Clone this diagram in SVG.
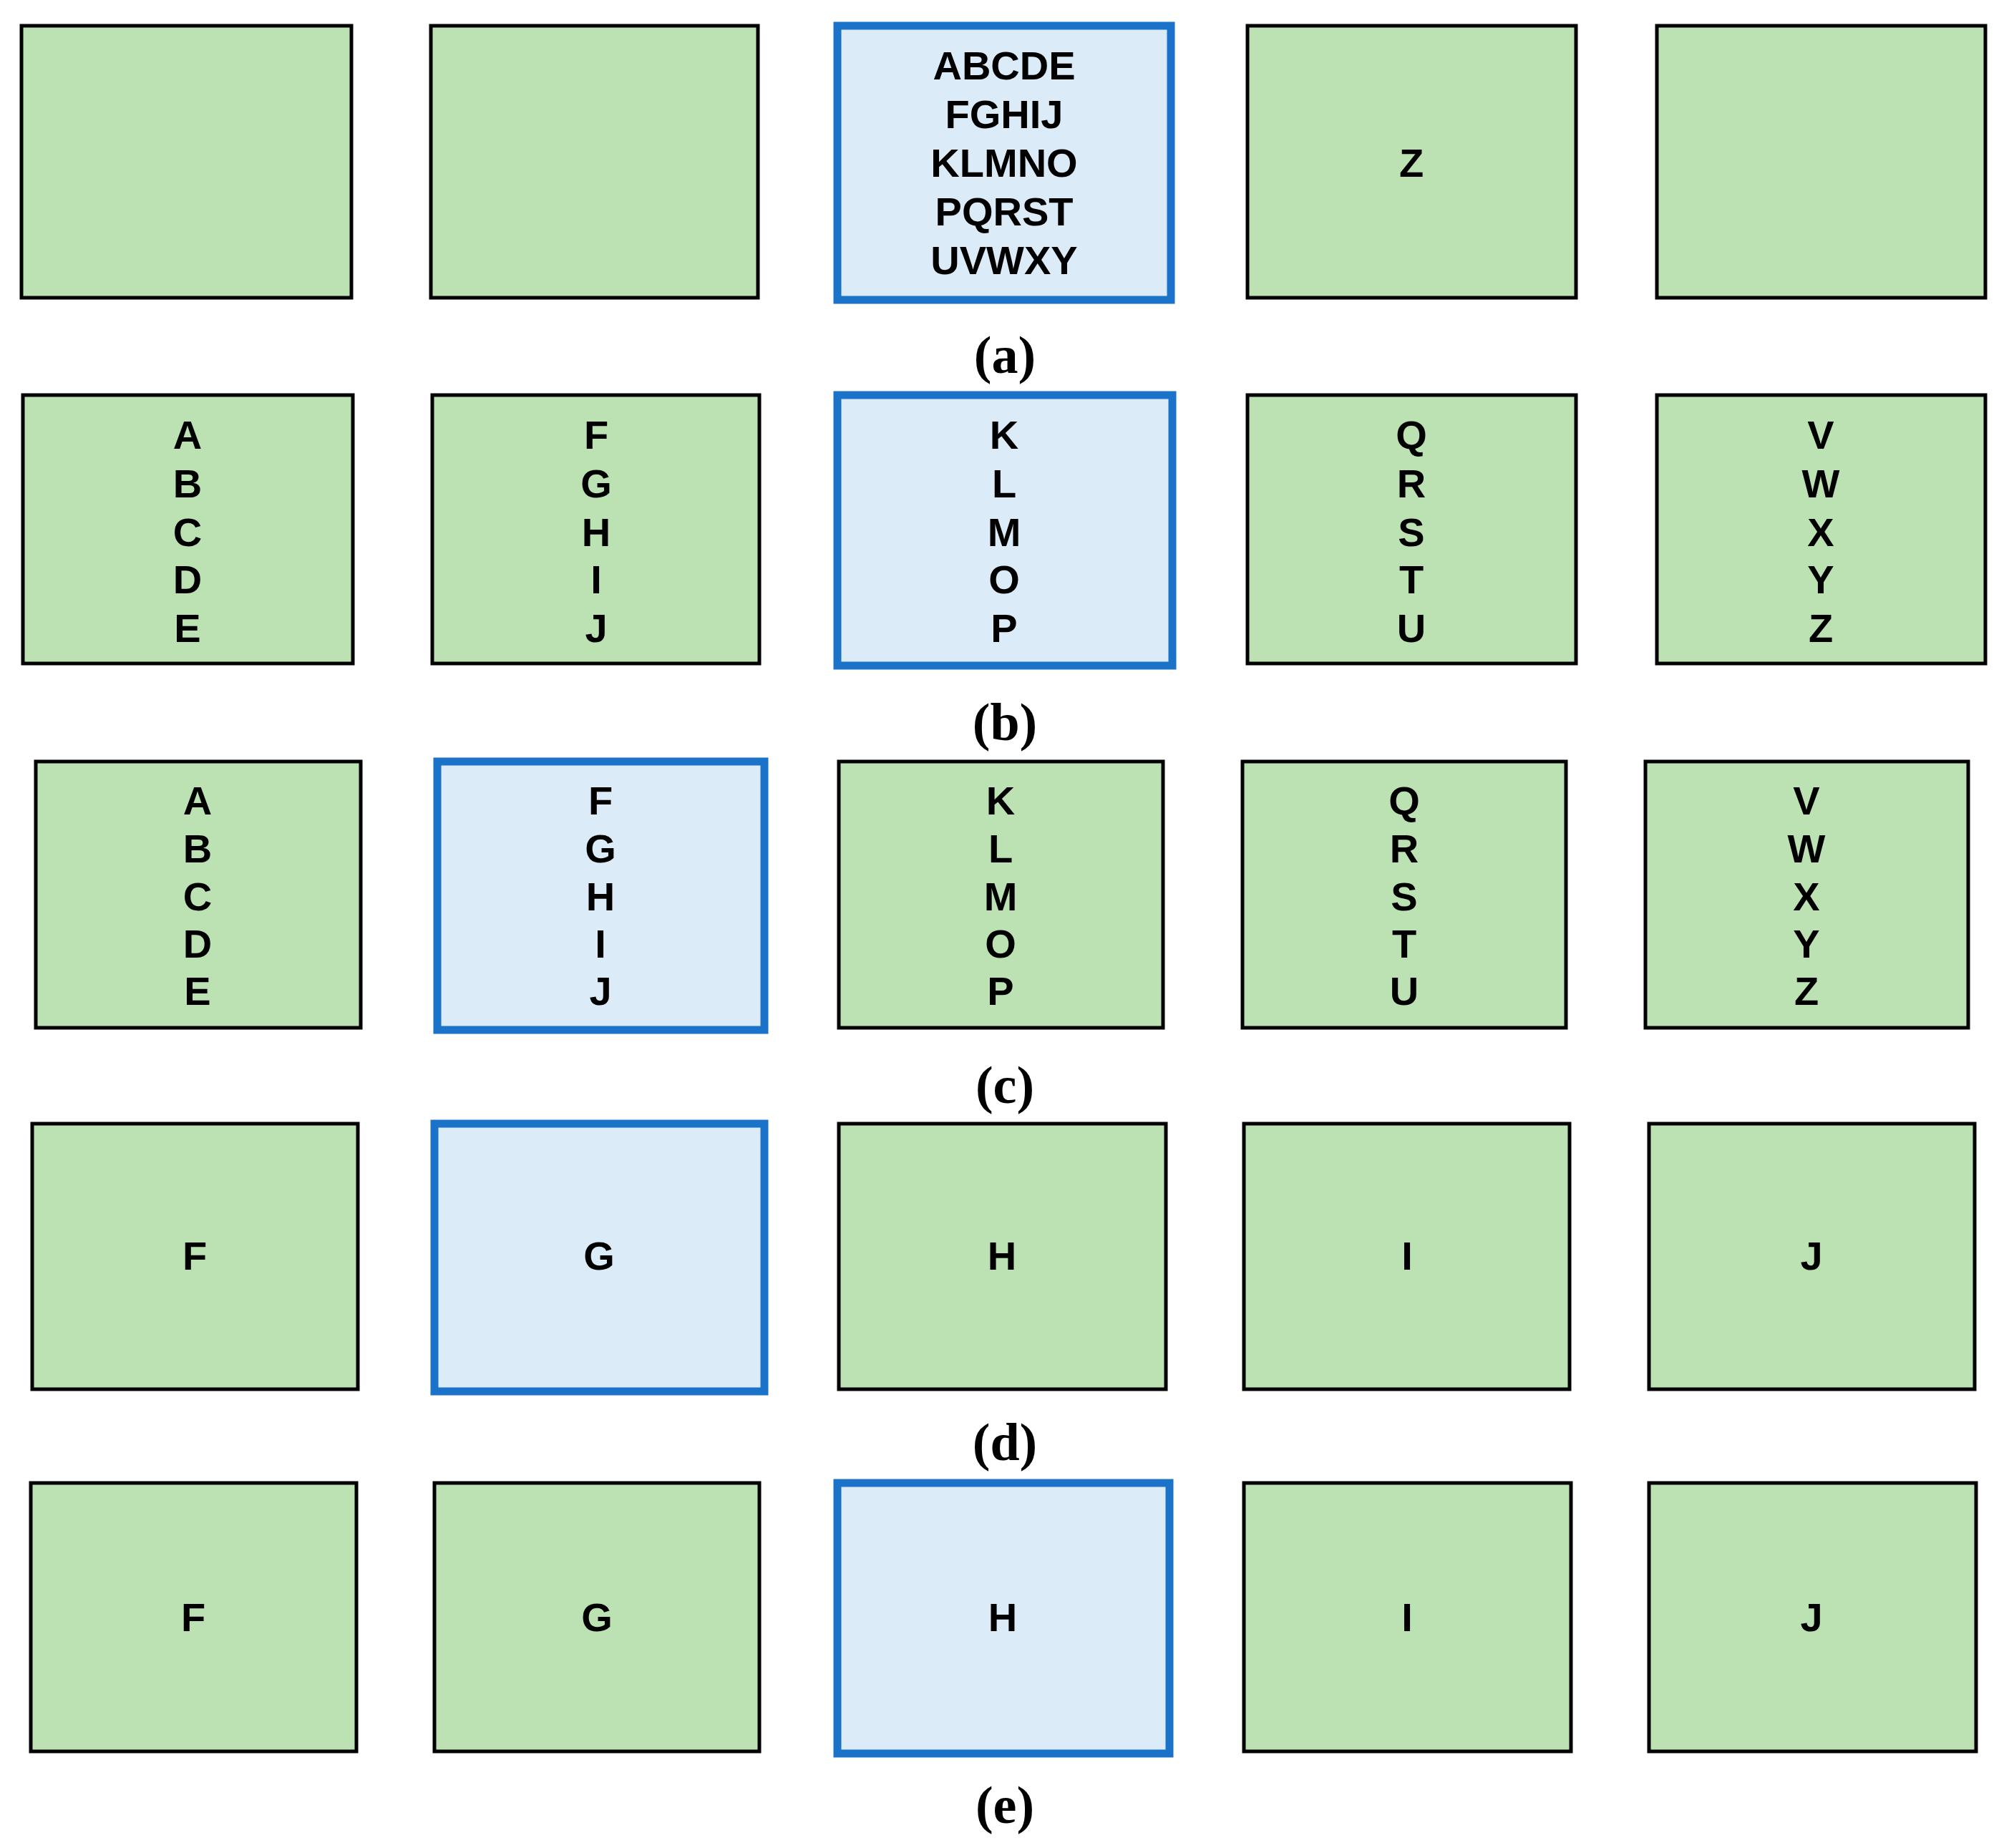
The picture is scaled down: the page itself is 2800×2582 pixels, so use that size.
<svg xmlns="http://www.w3.org/2000/svg" width="2800" height="2582" viewBox="0 0 2800 2582">
<style>
.g{fill:#bce2b4;stroke:#000;stroke-width:5}
.b{fill:#dbebf7;stroke:#1a73c8;stroke-width:11}
.t{font-family:"Liberation Sans",Arial,sans-serif;font-weight:bold;font-size:56px;text-anchor:middle;dominant-baseline:central;fill:#000}
.c{font-family:"Liberation Serif","Times New Roman",serif;font-weight:bold;font-size:74px;text-anchor:middle;dominant-baseline:central;fill:#000}
</style>
<rect width="2800" height="2582" fill="#fff"/>
<g id="row-a">
<g id="a1"><rect class="g" x="30" y="36" width="461" height="380"/></g>
<g id="a2"><rect class="g" x="602" y="36" width="457" height="380"/></g>
<g id="a3"><rect class="b" x="1170" y="36" width="466" height="383"/>
<text class="t" x="1403" y="91">ABCDE</text><text class="t" x="1403" y="159">FGHIJ</text><text class="t" x="1403" y="227">KLMNO</text><text class="t" x="1403" y="295">PQRST</text><text class="t" x="1403" y="363">UVWXY</text></g>
<g id="a4"><rect class="g" x="1743" y="36" width="459" height="380"/><text class="t" x="1972" y="227">Z</text></g>
<g id="a5"><rect class="g" x="2315" y="36" width="459" height="380"/></g>
<text class="c" x="1404" y="496">(a)</text>
</g>
<g id="row-b">
<g id="b1"><rect class="g" x="32" y="552" width="461" height="375"/><text class="t" x="262" y="607">A</text><text class="t" x="262" y="675">B</text><text class="t" x="262" y="743">C</text><text class="t" x="262" y="809">D</text><text class="t" x="262" y="877">E</text></g>
<g id="b2"><rect class="g" x="604" y="552" width="457" height="375"/><text class="t" x="833" y="607">F</text><text class="t" x="833" y="675">G</text><text class="t" x="833" y="743">H</text><text class="t" x="833" y="809">I</text><text class="t" x="833" y="877">J</text></g>
<g id="b3"><rect class="b" x="1170" y="552" width="468" height="378"/><text class="t" x="1403" y="607">K</text><text class="t" x="1403" y="675">L</text><text class="t" x="1403" y="743">M</text><text class="t" x="1403" y="809">O</text><text class="t" x="1403" y="877">P</text></g>
<g id="b4"><rect class="g" x="1743" y="552" width="459" height="375"/><text class="t" x="1972" y="607">Q</text><text class="t" x="1972" y="675">R</text><text class="t" x="1972" y="743">S</text><text class="t" x="1972" y="809">T</text><text class="t" x="1972" y="877">U</text></g>
<g id="b5"><rect class="g" x="2315" y="552" width="459" height="375"/><text class="t" x="2544" y="607">V</text><text class="t" x="2544" y="675">W</text><text class="t" x="2544" y="743">X</text><text class="t" x="2544" y="809">Y</text><text class="t" x="2544" y="877">Z</text></g>
<text class="c" x="1404" y="1009">(b)</text>
</g>
<g id="row-c">
<g id="c1"><rect class="g" x="50" y="1064" width="454" height="372"/><text class="t" x="276" y="1118">A</text><text class="t" x="276" y="1185">B</text><text class="t" x="276" y="1252">C</text><text class="t" x="276" y="1318">D</text><text class="t" x="276" y="1384">E</text></g>
<g id="c2"><rect class="b" x="611" y="1064" width="457" height="375"/><text class="t" x="839" y="1118">F</text><text class="t" x="839" y="1185">G</text><text class="t" x="839" y="1252">H</text><text class="t" x="839" y="1318">I</text><text class="t" x="839" y="1384">J</text></g>
<g id="c3"><rect class="g" x="1172" y="1064" width="453" height="372"/><text class="t" x="1398" y="1118">K</text><text class="t" x="1398" y="1185">L</text><text class="t" x="1398" y="1252">M</text><text class="t" x="1398" y="1318">O</text><text class="t" x="1398" y="1384">P</text></g>
<g id="c4"><rect class="g" x="1736" y="1064" width="452" height="372"/><text class="t" x="1962" y="1118">Q</text><text class="t" x="1962" y="1185">R</text><text class="t" x="1962" y="1252">S</text><text class="t" x="1962" y="1318">T</text><text class="t" x="1962" y="1384">U</text></g>
<g id="c5"><rect class="g" x="2299" y="1064" width="451" height="372"/><text class="t" x="2524" y="1118">V</text><text class="t" x="2524" y="1185">W</text><text class="t" x="2524" y="1252">X</text><text class="t" x="2524" y="1318">Y</text><text class="t" x="2524" y="1384">Z</text></g>
<text class="c" x="1404" y="1516">(c)</text>
</g>
<g id="row-d">
<g id="d1"><rect class="g" x="45" y="1570" width="455" height="371"/><text class="t" x="272" y="1754">F</text></g>
<g id="d2"><rect class="b" x="607" y="1570" width="461" height="374"/><text class="t" x="837" y="1754">G</text></g>
<g id="d3"><rect class="g" x="1172" y="1570" width="457" height="371"/><text class="t" x="1400" y="1754">H</text></g>
<g id="d4"><rect class="g" x="1738" y="1570" width="455" height="371"/><text class="t" x="1966" y="1754">I</text></g>
<g id="d5"><rect class="g" x="2304" y="1570" width="455" height="371"/><text class="t" x="2531" y="1754">J</text></g>
<text class="c" x="1404" y="2015">(d)</text>
</g>
<g id="row-e">
<g id="e1"><rect class="g" x="43" y="2072" width="455" height="375"/><text class="t" x="270" y="2259">F</text></g>
<g id="e2"><rect class="g" x="607" y="2072" width="454" height="375"/><text class="t" x="834" y="2259">G</text></g>
<g id="e3"><rect class="b" x="1170" y="2072" width="464" height="378"/><text class="t" x="1401" y="2259">H</text></g>
<g id="e4"><rect class="g" x="1738" y="2072" width="457" height="375"/><text class="t" x="1966" y="2259">I</text></g>
<g id="e5"><rect class="g" x="2304" y="2072" width="457" height="375"/><text class="t" x="2531" y="2259">J</text></g>
<text class="c" x="1404" y="2522">(e)</text>
</g>
<g id="connectors"/>
</svg>
